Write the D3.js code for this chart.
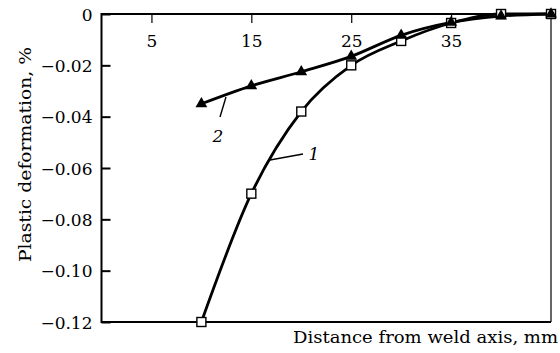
<!DOCTYPE html>
<html><head><meta charset="utf-8">
<script src="https://cdn.jsdelivr.net/npm/d3@7"></script>
<style>body{margin:0;background:#fff}svg{display:block}</style>
</head><body>
<script>
const distance = [10, 15, 20, 25, 30, 35, 40, 45];
const curve1 = [-0.120, -0.070, -0.038, -0.020, -0.0105, -0.0035, 0.000, 0.000];
const curve2 = [-0.035, -0.028, -0.0225, -0.0165, -0.0083, -0.0033, -0.0008, 0.000];
const xTicks = [5, 15, 25, 35];
const yTicks = [0, -0.02, -0.04, -0.06, -0.08, -0.10, -0.12];
const yTickLabels = ["0", "\u22120.02", "\u22120.04", "\u22120.06", "\u22120.08", "\u22120.10", "\u22120.12"];

(function () {
const FONT = "DejaVu Serif";
const FS = 17;
const W = 560, H = 353;
const svg = d3.select("body").append("svg").attr("width", W).attr("height", H)
  .attr("font-family", FONT);
const x = d3.scaleLinear().domain([0, 45]).range([101.5, 551]);
const y = d3.scaleLinear().domain([-0.12, 0]).range([322, 14]);

// top axis (ticks inward)
const topAxis = svg.append("g").attr("transform", `translate(0,${y(0)})`)
  .call(d3.axisTop(x).tickValues(xTicks).tickSize(-9).tickPadding(0).tickFormat(d3.format("d")));
topAxis.attr("font-family", FONT).attr("font-size", FS);
topAxis.select(".domain").remove();
topAxis.selectAll(".tick line").attr("stroke", "#000").attr("stroke-width", 1.2);
topAxis.selectAll(".tick text").attr("y", 33).attr("dy", 0).attr("fill", "#000");

// left axis (ticks inward)
const leftAxis = svg.append("g").attr("transform", `translate(${x(0)},0)`)
  .call(d3.axisLeft(y).tickValues(yTicks).tickSize(-9).tickPadding(0)
    .tickFormat((d, i) => yTickLabels[i]));
leftAxis.attr("font-family", FONT).attr("font-size", FS);
leftAxis.select(".domain").remove();
leftAxis.selectAll(".tick line").attr("stroke", "#000").attr("stroke-width", 2);
leftAxis.selectAll(".tick text").attr("x", -9).attr("dy", "0.36em").attr("fill", "#000");

// frame
svg.append("line").attr("x1", x(0)).attr("x2", x(45)).attr("y1", y(0)).attr("y2", y(0)).attr("stroke", "#000").attr("stroke-width", 2);
svg.append("line").attr("x1", x(0)).attr("x2", x(45)).attr("y1", y(-0.12)).attr("y2", y(-0.12)).attr("stroke", "#000").attr("stroke-width", 2);
svg.append("line").attr("x1", x(0)).attr("x2", x(0)).attr("y1", y(0) - 1).attr("y2", y(-0.12) + 1).attr("stroke", "#000").attr("stroke-width", 2);
svg.append("line").attr("x1", x(45)).attr("x2", x(45)).attr("y1", y(0)).attr("y2", y(-0.12)).attr("stroke", "#000").attr("stroke-width", 1.2);

const line = d3.line().x((d, i) => x(distance[i])).y(d => y(d)).curve(d3.curveMonotoneX);
svg.append("path").attr("d", line(curve2)).attr("fill", "none").attr("stroke", "#000").attr("stroke-width", 2.8);
svg.append("path").attr("d", line(curve1)).attr("fill", "none").attr("stroke", "#000").attr("stroke-width", 2.8);

// squares
svg.selectAll("rect.m1").data(curve1).enter().append("rect")
  .attr("x", (d, i) => x(distance[i]) - 4.5).attr("y", d => y(d) - 4.5)
  .attr("width", 9).attr("height", 9).attr("fill", "#fff").attr("stroke", "#000").attr("stroke-width", 1.4);
// triangles
const tri = d3.symbol().type(d3.symbolTriangle).size(60);
svg.selectAll("path.m2").data(curve2).enter().append("path")
  .attr("d", tri).attr("transform", (d, i) => `translate(${x(distance[i])},${y(d)})`).attr("fill", "#000");

// curve labels with leader lines
svg.append("line").attr("x1", 226).attr("y1", 97).attr("x2", 220).attr("y2", 117).attr("stroke", "#000").attr("stroke-width", 1.4);
svg.append("text").attr("x", 218).attr("y", 142).attr("text-anchor", "middle").attr("font-size", FS).attr("font-style", "italic").text("2");
svg.append("line").attr("x1", 270).attr("y1", 160).attr("x2", 303).attr("y2", 154).attr("stroke", "#000").attr("stroke-width", 1.4);
svg.append("text").attr("x", 314).attr("y", 160).attr("text-anchor", "middle").attr("font-size", FS).attr("font-style", "italic").text("1");

// axis titles
svg.append("text").attr("transform", "translate(31,262) rotate(-90)").attr("font-size", FS)
  .attr("textLength", 215).attr("lengthAdjust", "spacingAndGlyphs").text("Plastic deformation, %");
svg.append("text").attr("x", 293).attr("y", 343).attr("font-size", FS)
  .attr("textLength", 265).attr("lengthAdjust", "spacingAndGlyphs").text("Distance from weld axis, mm");
})();
</script>
</body></html>
